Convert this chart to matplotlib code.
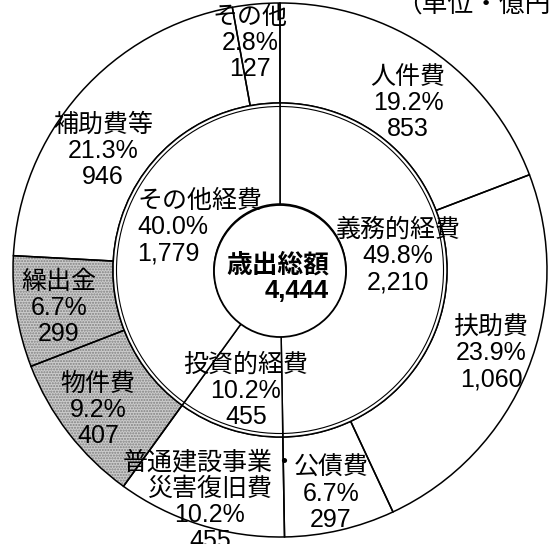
import numpy as np
import matplotlib
matplotlib.use("Agg")
from matplotlib import pyplot as plt
from matplotlib.patches import Circle

# Arial-like digits, CJK glyphs from Noto
plt.rcParams['font.family'] = ['Liberation Sans', 'Noto Sans CJK JP', 'DejaVu Sans']

# 歳出 (単位: 億円)
total = 4444

# inner ring: 性質別の大分類
inner_names = ["義務的経費", "投資的経費", "その他経費"]
inner_amounts = [2210, 455, 1779]
inner_pcts = [49.8, 10.2, 40.0]

# outer ring: 内訳
outer_names = ["人件費", "扶助費", "公債費", "普通建設事業・\n災害復旧費",
               "物件費", "繰出金", "補助費等", "その他"]
outer_amounts = [853, 1060, 297, 455, 407, 299, 946, 127]
outer_pcts = [19.2, 23.9, 6.7, 10.2, 9.2, 6.7, 21.3, 2.8]

# label anchors in pixel coordinates (y downward)
inner_label_xy = [(398, 256), (246, 391), (137, 227)]
inner_label_ha = ["center", "center", "left"]
outer_label_xy = [(408, 103), (491, 353), (331, 494), (210, 502),
                  (98, 410), (59, 308), (103, 151), (250, 43)]

cx, cy = 280, 270
r_out, r_mid, r_in = 267, 167, 66


def fmt(n):
    return "{:,}".format(n)


fig = plt.figure(figsize=(5.49, 5.44), dpi=100)
ax = fig.add_axes([0, 0, 1, 1])

# outer ring fill (shaded for 物件費 / 繰出金)
shade = ["物件費", "繰出金"]
colors = ["#cccccc" if n in shade else "white" for n in outer_names]
hatches = ["......" if n in shade else "" for n in outer_names]
ax.pie(outer_amounts, radius=r_out, center=(cx, cy), startangle=-90,
       counterclock=True, colors=colors, hatch=hatches, frame=True,
       wedgeprops=dict(width=r_out - r_mid, linewidth=0, edgecolor="#808080"))
# outer ring outlines
ax.pie(outer_amounts, radius=r_out, center=(cx, cy), startangle=-90,
       counterclock=True, colors=["none"] * len(outer_amounts), frame=True,
       wedgeprops=dict(width=r_out - r_mid, linewidth=1.1, edgecolor="black"))

# inner ring
ax.pie(inner_amounts, radius=r_mid, center=(cx, cy), startangle=-90,
       counterclock=True, colors=["white"] * 3, frame=True,
       wedgeprops=dict(width=r_mid - r_in, linewidth=1.1, edgecolor="black"))

# double rule between the rings
ax.add_patch(Circle((cx, cy), r_mid - 3.5, fill=False, lw=0.8, ec="black"))
# centre disc
ax.add_patch(Circle((cx, cy + 1), r_in, fc="white", ec="black", lw=1.3, zorder=3))

ax.text(329, 278, "歳出総額\n" + fmt(total), ha="right", va="center",
        fontsize=18.5, fontweight="bold", linespacing=1.05, zorder=4)

for name, amt, pct, (x, y), ha in zip(inner_names, inner_amounts, inner_pcts,
                                      inner_label_xy, inner_label_ha):
    ax.text(x, y, "{}\n{:.1f}%\n{}".format(name, pct, fmt(amt)), ha=ha,
            va="center", multialignment=ha, fontsize=18, linespacing=1.12,
            zorder=4)

for name, amt, pct, (x, y) in zip(outer_names, outer_amounts, outer_pcts,
                                  outer_label_xy):
    ax.text(x, y, "{}\n{:.1f}%\n{}".format(name, pct, fmt(amt)), ha="center",
            va="center", fontsize=18, linespacing=1.12, zorder=4)

ax.text(396, 13, "（単位・億円）", ha="left", va="baseline", fontsize=18.5)

ax.set_aspect("equal")
ax.set_xlim(0, 549)
ax.set_ylim(544, 0)
ax.axis("off")

fig.savefig("out.png", dpi=100)
